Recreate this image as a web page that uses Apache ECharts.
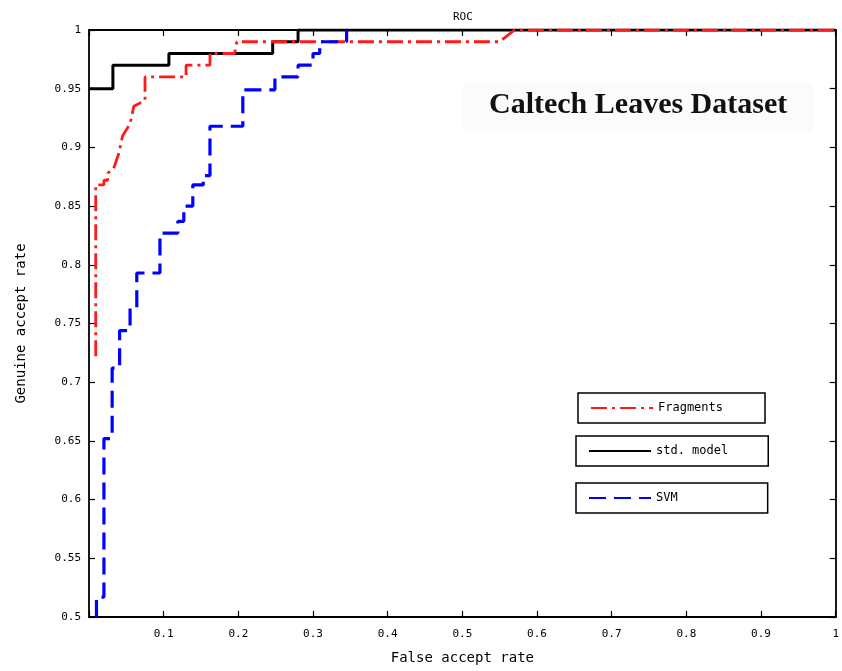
<!DOCTYPE html>
<html>
<head>
<meta charset="utf-8">
<title>ROC</title>
<style>
  html, body { margin: 0; padding: 0; background: #fff; }
  #main { width: 842px; height: 671px; }
</style>
</head>
<body>
<div id="main"></div>
<script src="https://cdn.jsdelivr.net/npm/echarts@6/dist/echarts.min.js"></script>
<script>
// false accept rate / genuine accept rate
var fragX = [0.009, 0.009, 0.02, 0.02, 0.025, 0.025, 0.033, 0.04, 0.045, 0.055, 0.06, 0.075, 0.075, 0.13, 0.13, 0.162, 0.162, 0.195, 0.198, 0.55, 0.57, 1];
var fragY = [0.722, 0.868, 0.868, 0.872, 0.872, 0.878, 0.882, 0.895, 0.91, 0.92, 0.935, 0.94, 0.96, 0.96, 0.97, 0.97, 0.98, 0.98, 0.99, 0.99, 1, 1];

var stdX = [0, 0.032, 0.032, 0.107, 0.107, 0.246, 0.246, 0.28, 0.28, 1];
var stdY = [0.95, 0.95, 0.97, 0.97, 0.98, 0.98, 0.99, 0.99, 1, 1];

var svmX = [0.01, 0.01, 0.02, 0.02, 0.031, 0.031, 0.041, 0.041, 0.055, 0.055, 0.064, 0.064, 0.095, 0.095, 0.119, 0.119, 0.127, 0.127, 0.139, 0.139, 0.153, 0.153, 0.162, 0.162, 0.206, 0.206, 0.249, 0.249, 0.28, 0.28, 0.30, 0.30, 0.309, 0.309, 0.345, 0.345];
var svmY = [0.5, 0.517, 0.517, 0.652, 0.652, 0.712, 0.712, 0.744, 0.744, 0.763, 0.763, 0.793, 0.793, 0.827, 0.827, 0.837, 0.837, 0.85, 0.85, 0.868, 0.868, 0.876, 0.876, 0.918, 0.918, 0.949, 0.949, 0.96, 0.96, 0.97, 0.97, 0.98, 0.98, 0.99, 0.99, 1];

var seriesNames = ['Fragments', 'std. model', 'SVM'];

function pairs(xs, ys) {
  var out = [];
  for (var i = 0; i < xs.length; i++) out.push([xs[i], ys[i]]);
  return out;
}

var mono = 'DejaVu Sans Mono';
var axisCommon = {
  axisLine: { show: true, onZero: false, lineStyle: { color: '#000', width: 1.8 } },
  axisTick: { show: true, inside: true, length: 6, lineStyle: { color: '#000', width: 1.2 } },
  splitLine: { show: false }
};

function legendBox(name, left, top, padRight) {
  return {
    data: [name],
    left: left, top: top,
    orient: 'horizontal',
    borderColor: '#000', borderWidth: 1.5, borderRadius: 0,
    padding: [9, padRight, 9, 12],
    itemWidth: 62, itemHeight: 12, itemGap: 10,
    itemStyle: { opacity: 0 },
    textStyle: { fontFamily: mono, fontSize: 12, color: '#000' },
    selectedMode: false
  };
}

var chart = echarts.init(document.getElementById('main'));
chart.setOption({
  backgroundColor: '#fff',
  animation: false,
  title: {
    text: 'ROC', left: 448, top: 7,
    textStyle: { fontFamily: mono, fontSize: 11, fontWeight: 'normal', color: '#000' }
  },
  grid: { left: 89, top: 30, right: 6, bottom: 54 },
  xAxis: [
    Object.assign({
      type: 'value', min: 0, max: 1, interval: 0.1, position: 'bottom',
      name: 'False accept rate', nameLocation: 'middle', nameGap: 34,
      nameTextStyle: { fontFamily: mono, fontSize: 14, color: '#000' },
      axisLabel: { fontFamily: mono, fontSize: 11, color: '#000', margin: 12,
        formatter: function (v) { return v === 0 ? '' : String(+v.toFixed(1)); } }
    }, axisCommon),
    Object.assign({
      type: 'value', min: 0, max: 1, interval: 0.1, position: 'top',
      axisLabel: { show: false }
    }, axisCommon)
  ],
  yAxis: [
    Object.assign({
      type: 'value', min: 0.5, max: 1, interval: 0.05, position: 'left',
      name: 'Genuine accept rate', nameLocation: 'middle', nameGap: 61, nameRotate: 90,
      nameTextStyle: { fontFamily: mono, fontSize: 14, color: '#000' },
      axisLabel: { fontFamily: mono, fontSize: 11, color: '#000', margin: 8,
        formatter: function (v) { return String(+v.toFixed(2)); } }
    }, axisCommon),
    Object.assign({
      type: 'value', min: 0.5, max: 1, interval: 0.05, position: 'right',
      axisLabel: { show: false }
    }, axisCommon)
  ],
  legend: [
    legendBox(seriesNames[0], 578, 393, 42),
    legendBox(seriesNames[1], 576, 436, 40),
    legendBox(seriesNames[2], 576, 483, 90)
  ],
  graphic: [
    { type: 'rect', left: 463, top: 83, shape: { width: 350, height: 49 },
      style: { fill: '#fbfbfb' }, z: 1 },
    { type: 'text', left: 489, top: 90, z: 2,
      style: { text: 'Caltech Leaves Dataset', fill: '#111',
        font: 'bold 30px "Liberation Serif", "Times New Roman", serif' } }
  ],
  series: [
    { name: seriesNames[0], type: 'line', data: pairs(fragX, fragY), showSymbol: false, symbol: 'none',
      itemStyle: { color: '#ff1a1a' },
      lineStyle: { color: '#ff1a1a', width: 2.8, type: [16, 5, 3, 5] }, z: 3 },
    { name: seriesNames[1], type: 'line', data: pairs(stdX, stdY), showSymbol: false, symbol: 'none',
      itemStyle: { color: '#000' },
      lineStyle: { color: '#000', width: 3 }, z: 2 },
    { name: seriesNames[2], type: 'line', data: pairs(svmX, svmY), showSymbol: false, symbol: 'none',
      itemStyle: { color: '#0000ff' },
      lineStyle: { color: '#0000ff', width: 3.2, type: [17, 8] }, z: 4 }
  ]
});
</script>
</body>
</html>
